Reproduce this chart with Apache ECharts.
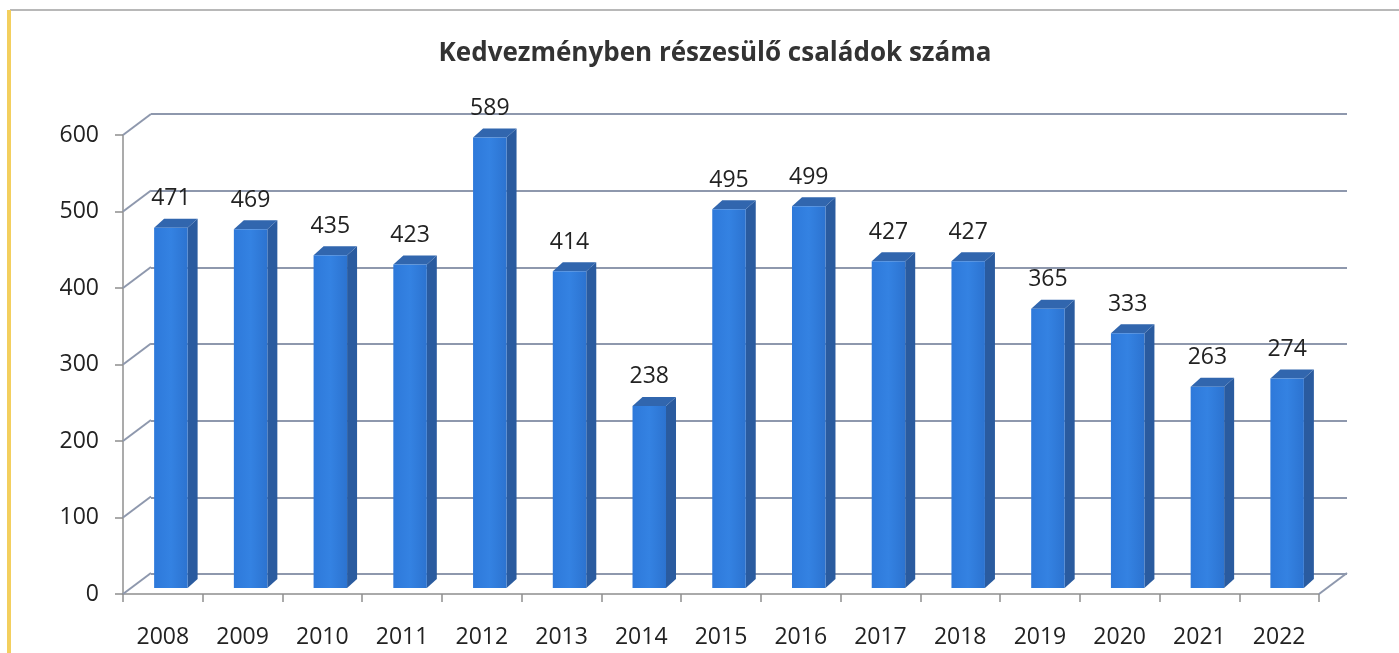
<!DOCTYPE html>
<html>
<head>
<meta charset="utf-8">
<script src="https://cdn.jsdelivr.net/npm/echarts@6/dist/echarts.min.js"></script>
<style>
  html, body { margin: 0; padding: 0; background: #fff; }
  #chart { width: 1399px; height: 653px; }
</style>
</head>
<body>
<div id="chart"></div>
<script>
// data
var years = ['2008', '2009', '2010', '2011', '2012', '2013', '2014', '2015',
             '2016', '2017', '2018', '2019', '2020', '2021', '2022'];
var families = [471, 469, 435, 423, 589, 414, 238, 495, 499, 427, 427, 365, 333, 263, 274];
var yTicks = [0, 100, 200, 300, 400, 500, 600];

var DX = 28, DY = -21;   // wall depth
var BX = 10, BY = -9;    // bar depth

var chart = echarts.init(document.getElementById('chart'));

function catAxis(idx, show) {
    return {
        type: 'category', gridIndex: idx, data: years, boundaryGap: true,
        axisLine: { show: show, lineStyle: { color: '#8f8f8f', width: 1.5 } },
        axisTick: { show: show, length: 8, lineStyle: { color: '#8f8f8f', width: 1.5 } },
        axisLabel: { show: show, margin: 32, color: '#222', fontSize: 23, fontFamily: 'Open Sans' },
        splitLine: { show: false }
    };
}
function valAxis(idx, show, grid) {
    return {
        type: 'value', gridIndex: idx, min: 0, max: 600, interval: 100,
        axisLine: { show: show, lineStyle: { color: '#8f8f8f', width: 1.5 } },
        axisTick: { show: show, length: 8, lineStyle: { color: '#8f8f8f', width: 1.5 } },
        axisLabel: { show: show, margin: 24, color: '#222', fontSize: 23, fontFamily: 'Open Sans' },
        splitLine: { show: grid, lineStyle: { color: '#8e98ad', width: 2 } }
    };
}

var option = {
    backgroundColor: '#fff',
    animation: false,
    title: {
        text: 'Kedvezményben részesülő családok száma',
        left: 710, top: 36, textAlign: 'center',
        textStyle: { fontFamily: 'Open Sans', fontWeight: 'bold', fontSize: 26, color: '#333' }
    },
    graphic: [
        { type: 'line', shape: { x1: 10, y1: 10, x2: 1399, y2: 10 }, style: { stroke: '#b8b8b8', lineWidth: 2 } },
        { type: 'line', shape: { x1: 9, y1: 10, x2: 9, y2: 653 }, style: { stroke: '#f3cf5e', lineWidth: 4 } }
    ],
    grid: [
        { left: 151, top: 114, width: 1196, height: 460 },   // back wall
        { left: 123, top: 135, width: 1196, height: 459 },   // front axes
        { left: 131, top: 129, width: 1196, height: 459 }    // bars
    ],
    xAxis: [catAxis(0, false), catAxis(1, true), catAxis(2, false)],
    yAxis: [valAxis(0, false, true), valAxis(1, true, false), valAxis(2, false, false)],
    series: [
        {
            // diagonal links between the front axis and the back wall
            type: 'custom', xAxisIndex: 1, yAxisIndex: 1,
            data: yTicks.map(function (v) { return [0, v]; }),
            renderItem: function (params, api) {
                var band = api.size([1, 0])[0];
                var p = api.coord([0, api.value(1)]);
                var x0 = p[0] - band / 2;
                var kids = [{
                    type: 'line',
                    shape: { x1: x0, y1: p[1], x2: x0 + DX, y2: p[1] + DY },
                    style: { stroke: '#8e98ad', lineWidth: 2 }
                }];
                if (api.value(1) === 0) {
                    var q = api.coord([years.length - 1, 0]);
                    var x1 = q[0] + band / 2;
                    kids.push({
                        type: 'line',
                        shape: { x1: x1, y1: q[1], x2: x1 + DX, y2: q[1] + DY },
                        style: { stroke: '#8e98ad', lineWidth: 2 }
                    });
                }
                return { type: 'group', children: kids };
            }
        },
        {
            name: 'családok', type: 'custom', xAxisIndex: 2, yAxisIndex: 2,
            data: families.map(function (v, i) { return [i, v]; }),
            renderItem: function (params, api) {
                var i = api.value(0), v = api.value(1);
                var top = api.coord([i, v]);
                var bot = api.coord([i, 0]);
                var w = api.size([1, 0])[0] * 0.42;
                var l = top[0] - w / 2, r = top[0] + w / 2;
                return {
                    type: 'group',
                    children: [
                        { type: 'polygon', shape: { points: [[r, top[1]], [r + BX, top[1] + BY], [r + BX, bot[1] + BY], [r, bot[1]]] },
                          style: { fill: '#2a5b9f' } },
                        { type: 'polygon', shape: { points: [[l, top[1]], [l + BX, top[1] + BY], [r + BX, top[1] + BY], [r, top[1]]] },
                          style: { fill: '#3166ae' } },
                        { type: 'rect', shape: { x: l, y: top[1], width: w, height: bot[1] - top[1] },
                          style: { fill: new echarts.graphic.LinearGradient(0, 0, 1, 0, [
                              { offset: 0, color: '#2e79da' }, { offset: 0.5, color: '#3482e2' }, { offset: 1, color: '#2c73d0' }]) } },
                        { type: 'text', x: top[0], y: top[1] - 29,
                          style: { text: String(v), textAlign: 'center', textVerticalAlign: 'middle',
                                   fill: '#222', fontSize: 23, fontFamily: 'Open Sans' } }
                    ]
                };
            }
        }
    ]
};

chart.setOption(option);
window.onresize = function () {
    chart.resize();
};
</script>
</body>
</html>
